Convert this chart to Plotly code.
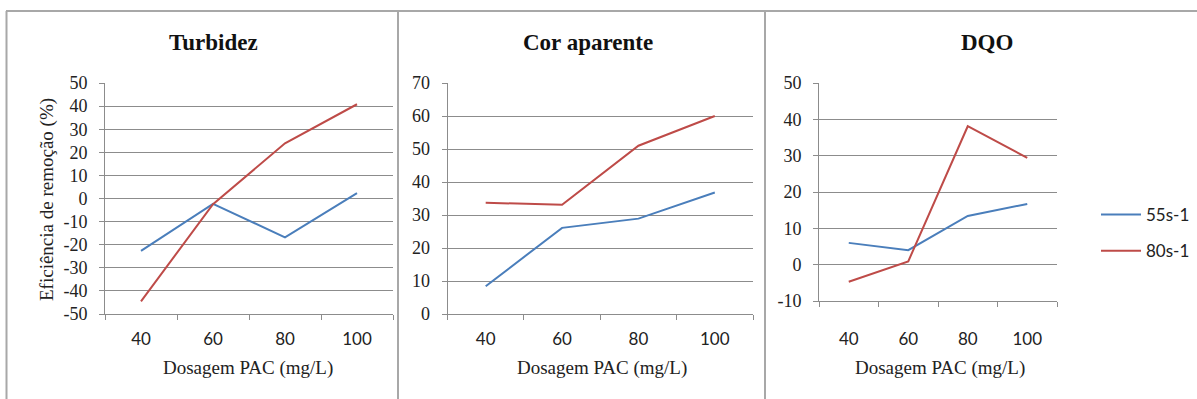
import plotly.graph_objects as go

W, H = 1197, 399

# Doses (mg/L) and removal efficiencies (%) for the two velocity gradients
doses = ["40", "60", "80", "100"]
series_names = ["55s-1", "80s-1"]
colors = ["#4A7EBB", "#BE4B48"]

turbidez_55 = [-22.7, -2.3, -16.8, 2.3]
turbidez_80 = [-44.5, -2.5, 23.9, 40.8]

cor_55 = [8.4, 26.1, 28.9, 36.8]
cor_80 = [33.7, 33.1, 51.0, 60.0]

dqo_55 = [6.0, 4.0, 13.4, 16.7]
dqo_80 = [-4.7, 0.9, 38.1, 29.4]

# y-axis tick values per panel
turbidez_ticks = [-50, -40, -30, -20, -10, 0, 10, 20, 30, 40, 50]
cor_ticks = [0, 10, 20, 30, 40, 50, 60, 70]
dqo_ticks = [-10, 0, 10, 20, 30, 40, 50]

panel_titles = ["Turbidez", "Cor aparente", "DQO"]
x_title = "Dosagem PAC (mg/L)"
y_title = "Eficiência de remoção (%)"

GRID = "#8c8c8c"
FRAME = "#a8a8a8"
SERIF = "Liberation Serif, Times New Roman, serif"
SANS = "Lato, Carlito, sans-serif"


def px_x(x):
    return x / W


def px_y(y):
    return 1 - y / H


# plot areas in pixels: (left, right, top, bottom)
areas = [(105, 393, 83, 314), (447.5, 753, 83, 314), (819, 1057, 83, 301)]
tick_sets = [turbidez_ticks, cor_ticks, dqo_ticks]
data = [(turbidez_55, turbidez_80), (cor_55, cor_80), (dqo_55, dqo_80)]
x_label_standoff = [10, 10, 23]

fig = go.Figure()

for i, (area, ticks, (s55, s80)) in enumerate(zip(areas, tick_sets, data)):
    l, r, t, b = area
    xa = "xaxis" if i == 0 else f"xaxis{i+1}"
    ya = "yaxis" if i == 0 else f"yaxis{i+1}"
    xref = "x" if i == 0 else f"x{i+1}"
    yref = "y" if i == 0 else f"y{i+1}"
    for name, vals, col in zip(series_names, (s55, s80), colors):
        fig.add_trace(go.Scatter(
            x=doses, y=vals, mode="lines", name=name,
            line=dict(color=col, width=2),
            xaxis=xref, yaxis=yref,
            legendgroup=name, showlegend=(i == 2),
        ))
    fig.update_layout({
        xa: dict(
            domain=[px_x(l), px_x(r)], anchor=yref, type="category",
            range=[-0.5, 3.5], tickson="boundaries", ticks="outside",
            ticklen=5, tickcolor=GRID, showline=True, linecolor=GRID,
            linewidth=1, showgrid=False, zeroline=False, automargin=False,
            tickfont=dict(family=SANS, size=17, color="#222"),
            ticklabelstandoff=x_label_standoff[i],
        ),
        ya: dict(
            domain=[px_y(b), px_y(t)], anchor=xref,
            range=[ticks[0], ticks[-1]],
            tickmode="array", tickvals=ticks, ticktext=[str(v) for v in ticks],
            ticks="outside", ticklen=5, tickcolor=GRID, showline=True,
            linecolor=GRID, linewidth=1, showgrid=True, gridcolor=GRID,
            gridwidth=1, zeroline=False, automargin=False,
            tickfont=dict(family=SERIF, size=18, color="#222"),
            ticklabelstandoff=8,
        ),
    })

# Panel titles
title_x = [213, 588, 987]
for txt, cx in zip(panel_titles, title_x):
    fig.add_annotation(
        x=px_x(cx), y=px_y(42), xref="paper", yref="paper",
        text=f"<b>{txt}</b>", showarrow=False, xanchor="center", yanchor="middle",
        font=dict(family=SERIF, size=23, color="#111"),
    )

# x-axis titles
xt_x = [248, 602, 940]
for cx in xt_x:
    fig.add_annotation(
        x=px_x(cx), y=px_y(368), xref="paper", yref="paper",
        text=x_title, showarrow=False, xanchor="center", yanchor="middle",
        font=dict(family=SERIF, size=19, color="#222"),
    )

# y-axis title (first panel)
fig.add_annotation(
    x=px_x(47), y=px_y(200), xref="paper", yref="paper",
    text=y_title, showarrow=False, textangle=-90,
    xanchor="center", yanchor="middle",
    font=dict(family=SERIF, size=19, color="#222"),
)

# Chart frames
frame = dict(color=FRAME, width=2)
fig.add_shape(type="line", xref="paper", yref="paper",
              x0=px_x(6), x1=1, y0=px_y(11), y1=px_y(11), line=frame)
for xv in (6.5, 398, 765):
    fig.add_shape(type="line", xref="paper", yref="paper",
                  x0=px_x(xv), x1=px_x(xv), y0=px_y(11), y1=0, line=frame)

fig.update_layout(
    template="none",
    width=W, height=H,
    margin=dict(l=0, r=0, t=0, b=0, pad=0),
    paper_bgcolor="white", plot_bgcolor="white",
    showlegend=True,
    legend=dict(
        x=px_x(1096), y=px_y(197), xanchor="left", yanchor="top",
        font=dict(family=SANS, size=17, color="#222"),
        tracegroupgap=11, bgcolor="rgba(0,0,0,0)", borderwidth=0,
        itemwidth=40,
    ),
)

fig.write_html("out.html")
